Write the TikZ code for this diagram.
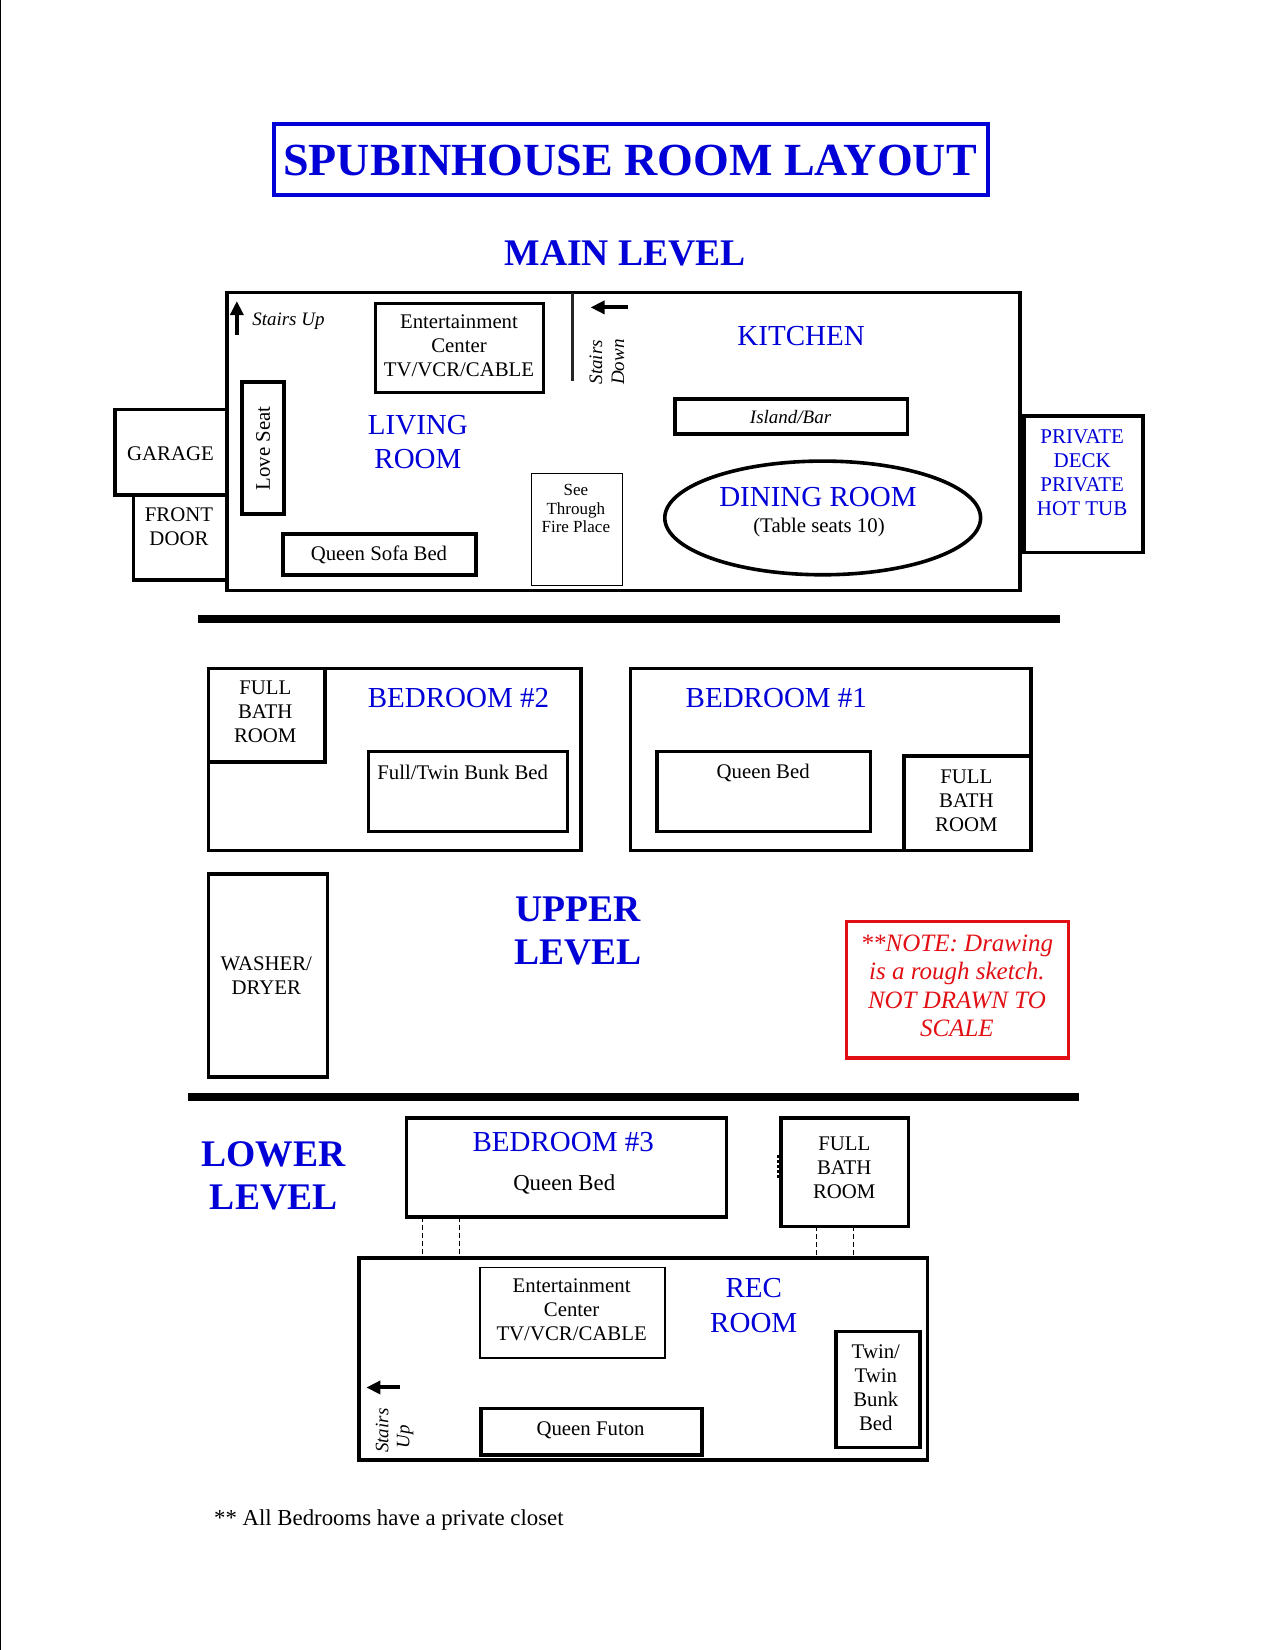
\documentclass[tikz,border=0pt]{standalone}
\usepackage{fontspec}
\setmainfont{Liberation Serif}
\usetikzlibrary{arrows.meta}
\definecolor{roomblue}{RGB}{0,0,215}
\definecolor{notered}{RGB}{225,15,20}
\tikzset{
  wall/.style={draw=black,line width=1.8pt,fill=none},
  thick wall/.style={draw=black,line width=2.2pt,fill=none},
  furn/.style={draw=black,line width=1.4pt,fill=none},
  thin furn/.style={draw=black,line width=0.9pt,fill=none},
  hair/.style={draw=black,line width=0.45pt,fill=none},
  divider/.style={draw=black,line width=4pt},
  passage/.style={draw=black,line width=0.45pt,dash pattern=on 2.5pt off 1.5pt},
  txt/.style={inner sep=0pt,align=center,font=\fontsize{10.4}{12}\selectfont,text=black},
  small/.style={txt,font=\fontsize{8.5}{9.4}\selectfont},
  ital/.style={txt,font=\fontsize{9.5}{11}\itshape\selectfont},
  rm/.style={txt,font=\fontsize{14.5}{17.3}\selectfont,text=roomblue},
  deck/.style={txt,font=\fontsize{10.5}{12.05}\selectfont,text=roomblue},
  level/.style={txt,font=\fontsize{18.8}{21.5}\bfseries\selectfont,text=roomblue},
  stairarrow/.style={draw=black,line width=2pt,-{Triangle[length=7pt,width=6.5pt]}},
}
\begin{document}
\begin{tikzpicture}[x=0.52635pt,y=-0.52635pt]
\useasboundingbox (0,0) rectangle (1211.2,1567.4);
\draw[line width=0.7pt] (0.6,0) -- (0.6,1567.4);
% Title
\draw[draw=roomblue,line width=2pt] (260,118) rectangle (939,185);
\node[txt,font=\fontsize{23}{28}\bfseries\selectfont,text=roomblue] (title) at (598.5,152) {SPUBINHOUSE ROOM LAYOUT};
\node[level] (mainlevel) at (594,241) {MAIN LEVEL};
% Main level
\draw[wall] (215.5,278) rectangle (969,561);
\draw[draw=black!85,line width=1.5pt] (544,278) -- (544,362);
\coordinate (sdA) at (597,292); \coordinate (sdB) at (561,292);
\draw[stairarrow] (sdA) -- (sdB);
\coordinate (suA) at (225,318); \coordinate (suB) at (225,286);
\draw[stairarrow] (suA) -- (suB);
\node[ital] (stairsup) at (274,305.5) {Stairs Up};
\draw[furn] (357,288) rectangle (516,373);
\node[txt] (ent1) at (436,328) {Entertainment\\Center\\TV/VCR/CABLE};
\node[ital,rotate=90] (stairs1) at (566,344) {Stairs};
\node[ital,rotate=90] (down1) at (587,344) {Down};
\node[rm] (kitchen) at (761,319) {KITCHEN};
\draw[thick wall] (230,363) rectangle (270,488);
\node[txt,rotate=90] (loveseat) at (250,426) {Love Seat};
\node[rm] (living) at (397,420) {LIVING\\ROOM};
\draw[wall] (109,389) rectangle (215.5,470);
\node[txt] (garage) at (162,431) {GARAGE};
\draw[wall] (127,470) rectangle (215.5,551);
\node[txt] (front) at (170,500.5) {FRONT\\DOOR};
\draw[thick wall] (269,507) rectangle (452,546);
\node[txt] (sofa) at (360,527) {Queen Sofa Bed};
\draw[hair] (505,450) rectangle (591,556);
\node[small] (fire) at (547,483) {See\\Through\\Fire Place};
\draw[wall] (641,379) rectangle (862,412);
\node[ital] (island) at (751,396) {Island/Bar};
\draw[wall] (781.5,492) ellipse [x radius=150,y radius=54];
\node[rm] (dining) at (777,472) {DINING ROOM};
\node[txt] (table) at (778,501.5) {(Table seats 10)};
\draw[wall] (972,395) rectangle (1086,525);
\draw[line width=2.4pt] (972,395) -- (972,525);
\node[deck] (decktxt) at (1028,449) {PRIVATE\\DECK\\PRIVATE\\HOT TUB};
\coordinate (d1a) at (188,588); \coordinate (d1b) at (1007,588);
\draw[divider] (d1a) -- (d1b);
% Upper level
\draw[wall] (198,635) rectangle (552,808);
\draw[wall] (198,635) rectangle (309,724);
\node[txt] (bath2) at (252,676) {FULL\\BATH\\ROOM};
\node[rm] (bed2) at (435.5,663) {BEDROOM \#2};
\draw[wall] (350,714) rectangle (539,790);
\node[txt] (bunk) at (439.5,734) {Full/Twin Bunk Bed};
\draw[wall] (599,635) rectangle (979.5,808);
\node[rm] (bed1) at (737.5,663) {BEDROOM \#1};
\draw[wall] (624,714) rectangle (827,790);
\node[txt] (queen1) at (725,734) {Queen Bed};
\draw[wall] (859,718) rectangle (979.5,808);
\node[txt] (bath1) at (918,761) {FULL\\BATH\\ROOM};
\draw[wall] (198,830) rectangle (311,1023);
\node[txt] (washer) at (253,927) {WASHER/\\DRYER};
\node[level] (upper) at (549,884.5) {UPPER\\LEVEL};
\draw[draw=notered,line width=1.6pt] (804,875) rectangle (1015,1005);
\node[txt,font=\fontsize{12.5}{14.2}\itshape\selectfont,text=notered] (note) at (909,936.5) {**NOTE: Drawing\\is a rough sketch.\\NOT DRAWN TO\\SCALE};
\coordinate (d2a) at (179,1042); \coordinate (d2b) at (1025,1042);
\draw[divider] (d2a) -- (d2b);
% Lower level
\node[level] (lower) at (260,1116.5) {LOWER\\LEVEL};
\draw[wall] (386,1062) rectangle (690,1156);
\node[rm] (bed3) at (535,1085) {BEDROOM \#3};
\node[txt,font=\fontsize{11.4}{13}\selectfont] (queen3) at (536,1125.5) {Queen Bed};
\draw[wall] (742,1062) rectangle (863,1165);
\draw[line width=1.6pt,dash pattern=on 1.5pt off 1pt] (740,1097) -- (740,1120);
\node[txt] (bath3) at (802,1109) {FULL\\BATH\\ROOM};
\draw[passage] (401,1156) -- (401,1195);
\draw[passage] (436,1156) -- (436,1195);
\draw[passage] (776,1165) -- (776,1195);
\draw[passage] (811,1165) -- (811,1195);
\draw[wall] (341,1195) rectangle (881,1387);
\draw[thin furn] (456,1204) rectangle (632,1290);
\node[txt] (ent2) at (543,1244) {Entertainment\\Center\\TV/VCR/CABLE};
\node[rm] (rec) at (716,1240) {REC\\ROOM};
\draw[wall] (794,1265) rectangle (874,1375);
\node[txt] (twin) at (832,1318) {Twin/\\Twin\\Bunk\\Bed};
\draw[wall] (457,1338) rectangle (667,1382);
\node[txt] (futon) at (561,1358.5) {Queen Futon};
\coordinate (srA) at (380,1318); \coordinate (srB) at (348,1318);
\draw[stairarrow] (srA) -- (srB);
\node[ital,rotate=90] (stairs2) at (363,1359) {Stairs};
\node[ital,rotate=90] (up2) at (385,1365) {Up};
\node[txt,anchor=west,font=\fontsize{11.4}{13}\selectfont] (foot) at (203,1444) {** All Bedrooms have a private closet};
\end{tikzpicture}
\end{document}
